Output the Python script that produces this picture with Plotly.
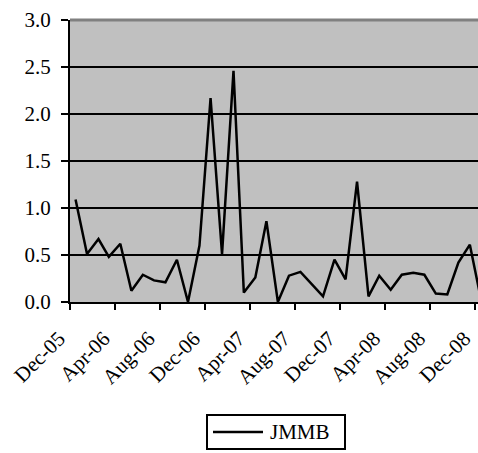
import pandas as pd
import plotly.graph_objects as go

# Monthly values, Dec-05 through Dec-08
months = pd.date_range("2005-12-01", periods=37, freq="MS")
jmmb = [1.09, 0.51, 0.67, 0.48, 0.62, 0.12, 0.29, 0.23, 0.21, 0.45, 0.00, 0.60,
        2.17, 0.51, 2.46, 0.10, 0.26, 0.86, 0.00, 0.28, 0.32, 0.19, 0.06, 0.45,
        0.24, 1.28, 0.06, 0.28, 0.13, 0.29, 0.31, 0.29, 0.09, 0.08, 0.42, 0.61,
        0.03]
series_name = "JMMB"

# Axis labels every four months
tick_months = months[::4]
tick_labels = ["Dec-05", "Apr-06", "Aug-06", "Dec-06", "Apr-07",
               "Aug-07", "Dec-07", "Apr-08", "Aug-08", "Dec-08"]
y_ticks = [0.0, 0.5, 1.0, 1.5, 2.0, 2.5, 3.0]

# each month's point sits in the middle of its month slot
x_points = months + pd.Timedelta(days=15)

FONT = "Liberation Serif"

fig = go.Figure()
fig.add_trace(go.Scatter(
    x=x_points, y=jmmb, mode="lines", name=series_name,
    line=dict(color="black", width=2.5), showlegend=False,
))

W, H = 478, 453
L, R, T, B = 70, 0, 20, 151
pw, ph = W - L - R, H - T - B


def px_x(p):
    return (p - L) / pw


def px_y(p):
    return (H - B - p) / ph


shapes = [
    # grey top border of the plot area
    dict(type="line", xref="paper", yref="paper", x0=0, x1=1, y0=1, y1=1,
         line=dict(color="#808080", width=3), layer="above"),
    # legend box
    dict(type="rect", xref="paper", yref="paper",
         x0=px_x(207), x1=px_x(345), y0=px_y(449), y1=px_y(415),
         line=dict(color="black", width=2), fillcolor="white", layer="above"),
    dict(type="line", xref="paper", yref="paper",
         x0=px_x(213), x1=px_x(263), y0=px_y(432), y1=px_y(432),
         line=dict(color="black", width=2.5), layer="above"),
]

fig.update_layout(
    width=W, height=H,
    margin=dict(l=L, r=R, t=T, b=B, pad=0),
    paper_bgcolor="white",
    plot_bgcolor="#C0C0C0",
    font=dict(family=FONT, size=21, color="black"),
    shapes=shapes,
    annotations=[dict(
        text=series_name, xref="paper", yref="paper",
        x=px_x(268), y=px_y(432), xanchor="left", yanchor="middle",
        showarrow=False, font=dict(family=FONT, size=21, color="black"),
    )],
)

fig.update_xaxes(
    type="date",
    range=[months[0], pd.Timestamp("2008-12-08")],
    tickmode="array", tickvals=tick_months, ticktext=tick_labels,
    tickangle=-45, ticklabeloverflow="allow",
    ticklabelstandoff=8, ticklabelshift=-11,
    ticks="outside", ticklen=6, tickwidth=2, tickcolor="black",
    showline=True, linecolor="black", linewidth=2,
    showgrid=False, zeroline=False, automargin=False,
    tickfont=dict(family=FONT, size=21, color="black"),
)

fig.update_yaxes(
    range=[0, 3],
    tickmode="array", tickvals=y_ticks,
    ticktext=[f"{v:.1f}" for v in y_ticks],
    ticks="outside", ticklen=7, tickwidth=2, tickcolor="black",
    ticklabelstandoff=6,
    showline=True, linecolor="black", linewidth=2,
    showgrid=True, gridcolor="black", gridwidth=2,
    zeroline=False, automargin=False,
    tickfont=dict(family=FONT, size=21, color="black"),
)

fig.write_html("out.html")
